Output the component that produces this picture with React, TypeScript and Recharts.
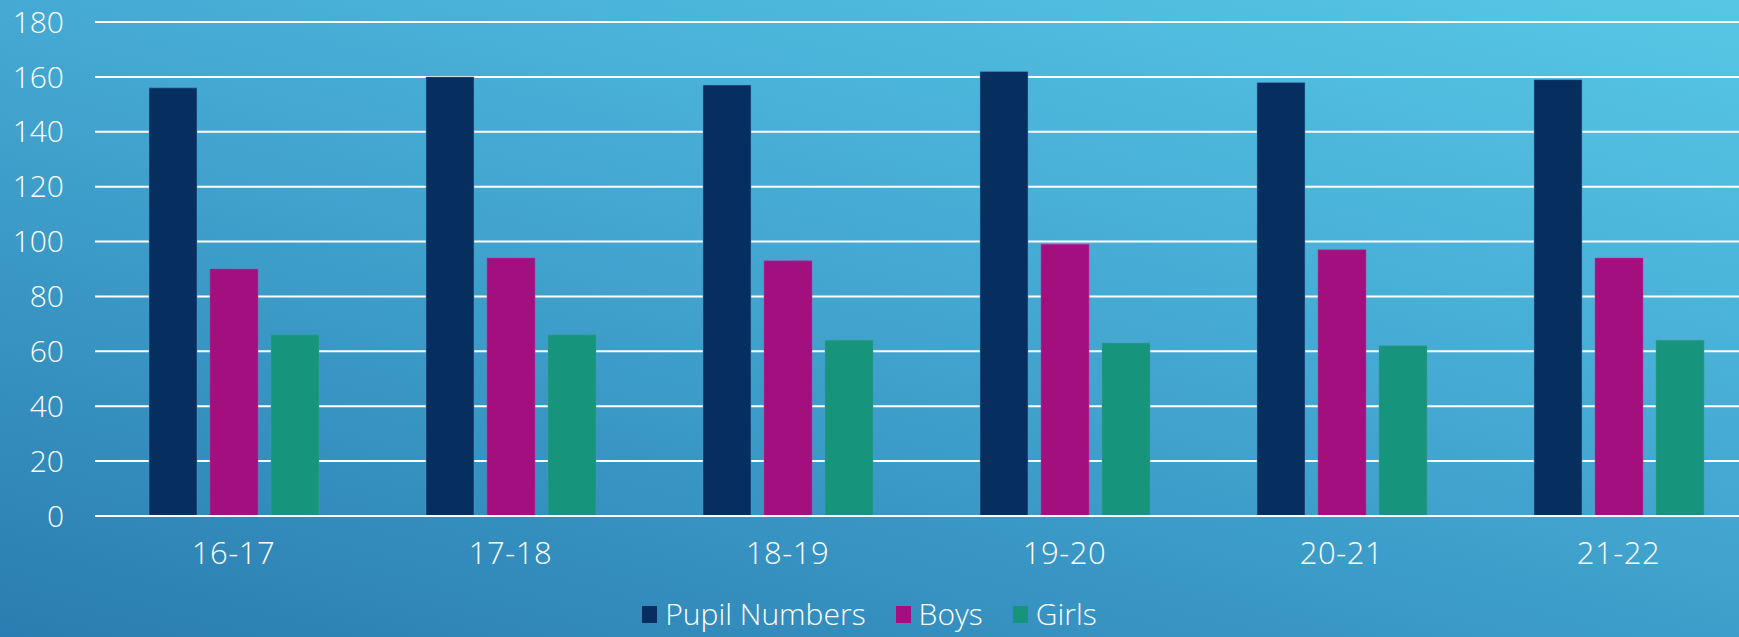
import React from "react";
import { BarChart, Bar, XAxis, YAxis, CartesianGrid, Legend } from "recharts";

const categories = ["16-17", "17-18", "18-19", "19-20", "20-21", "21-22"];
const pupilNumbers = [156, 160, 157, 162, 158, 159];
const boys = [90, 94, 93, 99, 97, 94];
const girls = [66, 66, 64, 63, 62, 64];
const yTicks = [0, 20, 40, 60, 80, 100, 120, 140, 160, 180];

const seriesNames = ["Pupil Numbers", "Boys", "Girls"];
const seriesColors = ["#062f5f", "#a40f80", "#16957c"];

const data = categories.map((c, i) => ({
  name: c,
  pupil: pupilNumbers[i],
  boys: boys[i],
  girls: girls[i],
}));

const FONT = "'Open Sans', 'DejaVu Sans', sans-serif";

const renderLegend = () => (
  <div
    style={{
      display: "flex",
      justifyContent: "center",
      alignItems: "center",
      fontFamily: FONT,
      fontWeight: 300,
      fontSize: 30,
      color: "#ffffff",
      paddingLeft: 0,
    }}
  >
    {seriesNames.map((n, i) => (
      <div
        key={n}
        style={{ display: "flex", alignItems: "center", marginRight: i < 2 ? 30 : 0 }}
      >
        <span
          style={{
            display: "inline-block",
            width: 15,
            height: 17,
            background: seriesColors[i],
            marginRight: 8,
          }}
        />
        <span style={{ lineHeight: "34px" }}>{n}</span>
      </div>
    ))}
  </div>
);

export default function App() {
  return (
    <div
      style={{
        position: "absolute",
        left: 0,
        top: 0,
        width: 1739,
        height: 637,
        overflow: "hidden",
        background: "linear-gradient(195deg, #57c7e5 0%, #44a8d2 45%, #2a7db0 100%)",
      }}
    >
      <BarChart
        width={1760}
        height={637}
        data={data}
        margin={{ top: 22, right: 3, left: 0, bottom: 61 }}
        barSize={48}
        barGap={13}
      >
        <CartesianGrid
          horizontal={true}
          vertical={false}
          stroke="#ffffff"
          strokeWidth={2}
        />
        <XAxis
          dataKey="name"
          axisLine={{ stroke: "#ffffff", strokeWidth: 2 }}
          tickLine={false}
          tickSize={0}
          tickMargin={26}
          tick={{ fill: "#ffffff", fontSize: 31, fontFamily: FONT, fontWeight: 300, letterSpacing: 0.5 }}
          height={60}
          interval={0}
        />
        <YAxis
          domain={[0, 180]}
          ticks={yTicks}
          axisLine={false}
          tickLine={false}
          tickSize={0}
          tickMargin={31}
          width={95}
          interval={0}
          tick={{ fill: "#ffffff", fontSize: 30, fontFamily: FONT, fontWeight: 300 }}
        />
        <Legend
          layout="horizontal"
          verticalAlign="middle"
          align="center"
          content={renderLegend}
          wrapperStyle={{ top: 597, left: 0, width: 1739, height: 34 }}
        />
        <Bar dataKey="pupil" name="Pupil Numbers" fill={seriesColors[0]} stroke="rgba(80,150,200,0.5)" strokeWidth={1} isAnimationActive={false} />
        <Bar dataKey="boys" name="Boys" fill={seriesColors[1]} stroke="rgba(180,60,150,0.5)" strokeWidth={1} isAnimationActive={false} />
        <Bar dataKey="girls" name="Girls" fill={seriesColors[2]} stroke="rgba(60,160,150,0.5)" strokeWidth={1} isAnimationActive={false} />
      </BarChart>
    </div>
  );
}
